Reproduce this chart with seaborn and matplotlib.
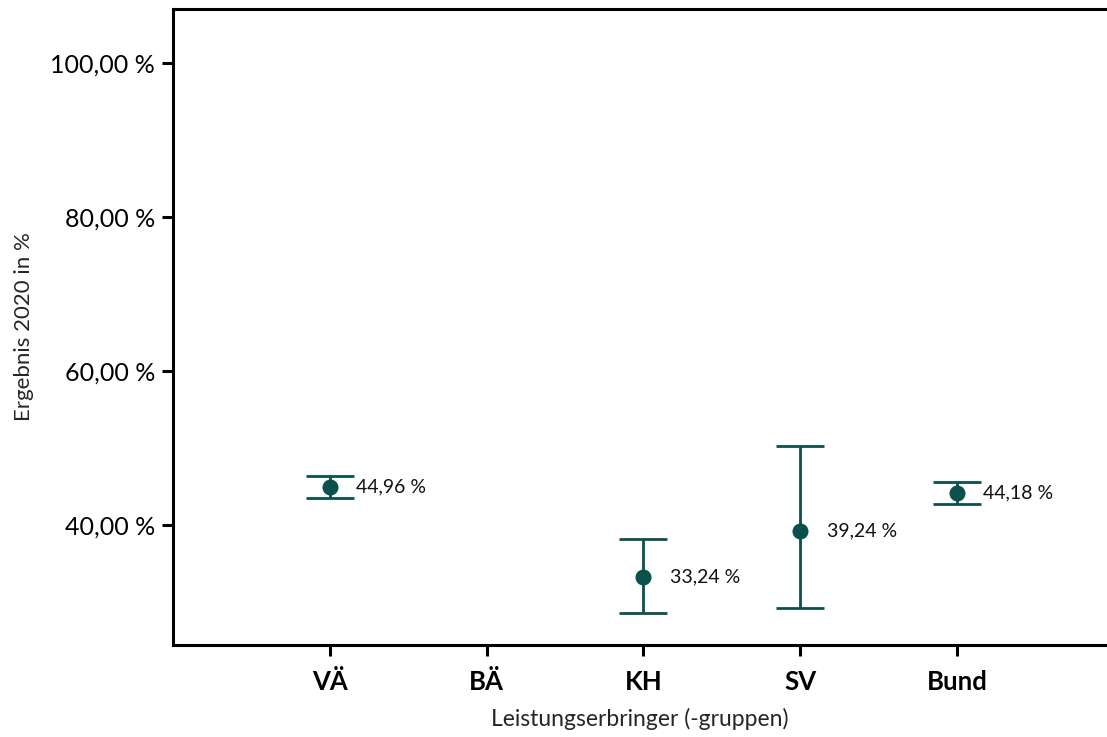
import matplotlib
matplotlib.use("Agg")
import matplotlib.pyplot as plt
import seaborn as sns
import numpy as np
import pandas as pd

categories = ["VÄ", "BÄ", "KH", "SV", "Bund"]
values = [44.96, np.nan, 33.24, 39.24, 44.18]
lower = [43.55, np.nan, 28.6, 29.2, 42.75]
upper = [46.35, np.nan, 38.2, 50.25, 45.6]
value_labels = ["44,96 %", "", "33,24 %", "39,24 %", "44,18 %"]
yticks = [40, 60, 80, 100]
ytick_labels = ["40,00 %", "60,00 %", "80,00 %", "100,00 %"]

color = "#0b514b"

sns.set_theme(style="white")
plt.rcParams["font.family"] = ["Lato", "DejaVu Sans"]

fig = plt.figure(figsize=(11.07, 7.37), dpi=100)
ax = fig.add_axes([173/1107, 1 - 645/737, 1 - 173/1107, (645 - 8.5)/737])

df = pd.DataFrame({"cat": categories, "val": values})
sns.pointplot(data=df, x="cat", y="val", order=categories, linestyle="none",
              errorbar=None, color=color, markers="o", markersize=9.5, ax=ax)

pos = np.arange(len(categories))
vals = np.array(values, dtype=float)
lo = np.array(lower, dtype=float)
hi = np.array(upper, dtype=float)
mask = ~np.isnan(vals)
ax.errorbar(pos[mask], vals[mask], yerr=[vals[mask] - lo[mask], hi[mask] - vals[mask]],
            fmt="none", ecolor=color, elinewidth=2.0, capsize=17, capthick=2.0, zorder=1)

for p, v, lab in zip(pos, vals, value_labels):
    if not np.isnan(v):
        ax.annotate(lab, (p, v), xytext=(19, 0), textcoords="offset points",
                    va="center", ha="left", fontsize=14, color="#111111")

ax.set_xlim(-1.0, 4.957)
ax.set_ylim(24.42, 107.08)
ax.set_yticks(yticks)
ax.set_yticklabels(ytick_labels, fontsize=18)
ax.set_xticks(pos)
ax.set_xticklabels(categories, fontsize=18.5, fontweight="bold")

ax.set_xlabel("Leistungserbringer (-gruppen)", fontsize=16.5, labelpad=10)
ax.set_ylabel("Ergebnis 2020 in %", fontsize=16, labelpad=12)

for s in ["left", "bottom", "top"]:
    ax.spines[s].set_visible(True)
    ax.spines[s].set_color("black")
    ax.spines[s].set_linewidth(2.2)
ax.spines["right"].set_visible(False)
ax.tick_params(axis="both", which="major", direction="out", length=8, width=2.2,
               color="black", left=True, bottom=True, labelcolor="black", pad=5)
ax.tick_params(axis="x", pad=10)
ax.grid(False)

fig.savefig("out.png", dpi=100)
